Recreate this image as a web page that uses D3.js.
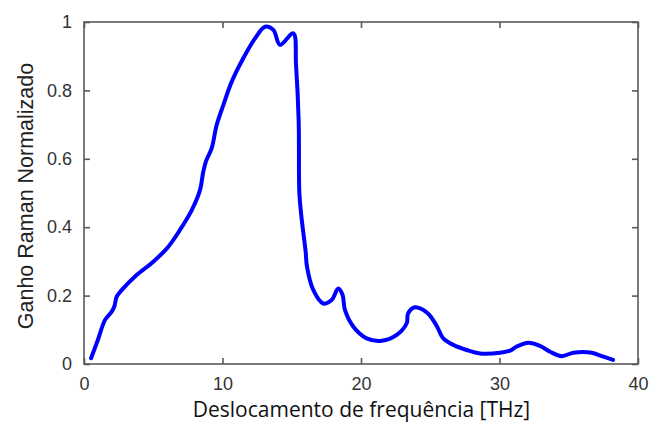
<!DOCTYPE html>
<html>
<head>
<meta charset="utf-8">
<script src="https://cdn.jsdelivr.net/npm/d3@7"></script>
<style>
html,body{margin:0;padding:0;background:#fff;}
svg{display:block;}
</style>
</head>
<body>
<svg id="chart" width="651" height="426"></svg>
<script>
const freq = [0.51,1.0,1.52,2.0,2.19,2.36,2.72,3.8,5.0,6.09,6.93,7.78,8.38,8.6,8.8,9.22,9.58,10.06,10.66,11.5,12.35,13.07,13.67,14.15,15.11,15.31,15.5,15.55,15.7,16.0,16.1,16.56,17.28,17.88,18.36,18.67,18.84,19.45,20.41,21.5,22.58,23.3,23.4,23.9,24.5,24.9,25.46,25.94,26.66,27.63,28.59,30.04,30.76,31.24,32.08,32.92,33.65,34.49,35.33,36.66,37.38,38.2];
const gain = [0.017,0.07,0.129,0.153,0.168,0.197,0.216,0.26,0.299,0.343,0.392,0.45,0.509,0.56,0.592,0.631,0.699,0.757,0.825,0.894,0.952,0.986,0.977,0.933,0.967,0.874,0.71,0.5,0.43,0.33,0.285,0.216,0.177,0.187,0.221,0.202,0.158,0.109,0.075,0.068,0.085,0.119,0.148,0.166,0.158,0.145,0.112,0.075,0.056,0.041,0.031,0.033,0.039,0.051,0.062,0.053,0.036,0.023,0.033,0.033,0.023,0.012];
const xTicks = [0,10,20,30,40];
const yTicks = [0,0.2,0.4,0.6,0.8,1];
const xTitle = "Deslocamento de frequência [THz]";
const yTitle = "Ganho Raman Normalizado";

const svg = d3.select("#chart");
const L = 84, R = 638, T = 22, B = 364;
const x = d3.scaleLinear().domain([0,40]).range([L,R]);
const y = d3.scaleLinear().domain([0,1]).range([B,T]);
const axisColor = "#5a5a5a";
const textColor = "#333";
const tickLen = 6;

// box
svg.append("rect").attr("x",L).attr("y",T).attr("width",R-L).attr("height",B-T)
  .attr("fill","none").attr("stroke",axisColor).attr("stroke-width",1.6);

// axes (inward ticks)
const fmt = d => String(d);
const gx = svg.append("g").attr("transform",`translate(0,${B})`)
  .call(d3.axisBottom(x).tickValues(xTicks).tickSizeInner(-tickLen).tickSizeOuter(0).tickPadding(13).tickFormat(fmt));
const gxt = svg.append("g").attr("transform",`translate(0,${T})`)
  .call(d3.axisTop(x).tickValues(xTicks).tickSizeInner(-tickLen).tickSizeOuter(0).tickFormat(""));
const gy = svg.append("g").attr("transform",`translate(${L},0)`)
  .call(d3.axisLeft(y).tickValues(yTicks).tickSizeInner(-tickLen).tickSizeOuter(0).tickPadding(12).tickFormat(fmt));
const gyr = svg.append("g").attr("transform",`translate(${R},0)`)
  .call(d3.axisRight(y).tickValues(yTicks).tickSizeInner(-tickLen).tickSizeOuter(0).tickFormat(""));
[gx,gxt,gy,gyr].forEach(g=>{
  g.select(".domain").remove();
  g.selectAll(".tick line").attr("stroke",axisColor).attr("stroke-width",1.6);
  g.selectAll(".tick text").attr("fill",textColor)
    .style("font-family","'Liberation Sans', Arial, sans-serif").style("font-size","18px");
});

// line
const line = d3.line().x((d,i)=>x(freq[i])).y((d,i)=>y(gain[i])).curve(d3.curveCatmullRom.alpha(0.5));
svg.append("path").datum(gain).attr("d",line)
  .attr("fill","none").attr("stroke","#0000ff").attr("stroke-width",4)
  .attr("stroke-linejoin","round").attr("stroke-linecap","round");

// titles
svg.append("text").attr("x",(193+530)/2).attr("y",417).attr("text-anchor","middle")
  .attr("fill","#111").style("font-family","'Open Sans', sans-serif").style("font-size","21px")
  .text(xTitle);
svg.append("text").attr("transform",`translate(33,196) rotate(-90)`).attr("text-anchor","middle")
  .attr("fill","#222").style("font-family","'Liberation Sans', Arial, sans-serif").style("font-size","21.5px")
  .text(yTitle);
</script>
</body>
</html>
